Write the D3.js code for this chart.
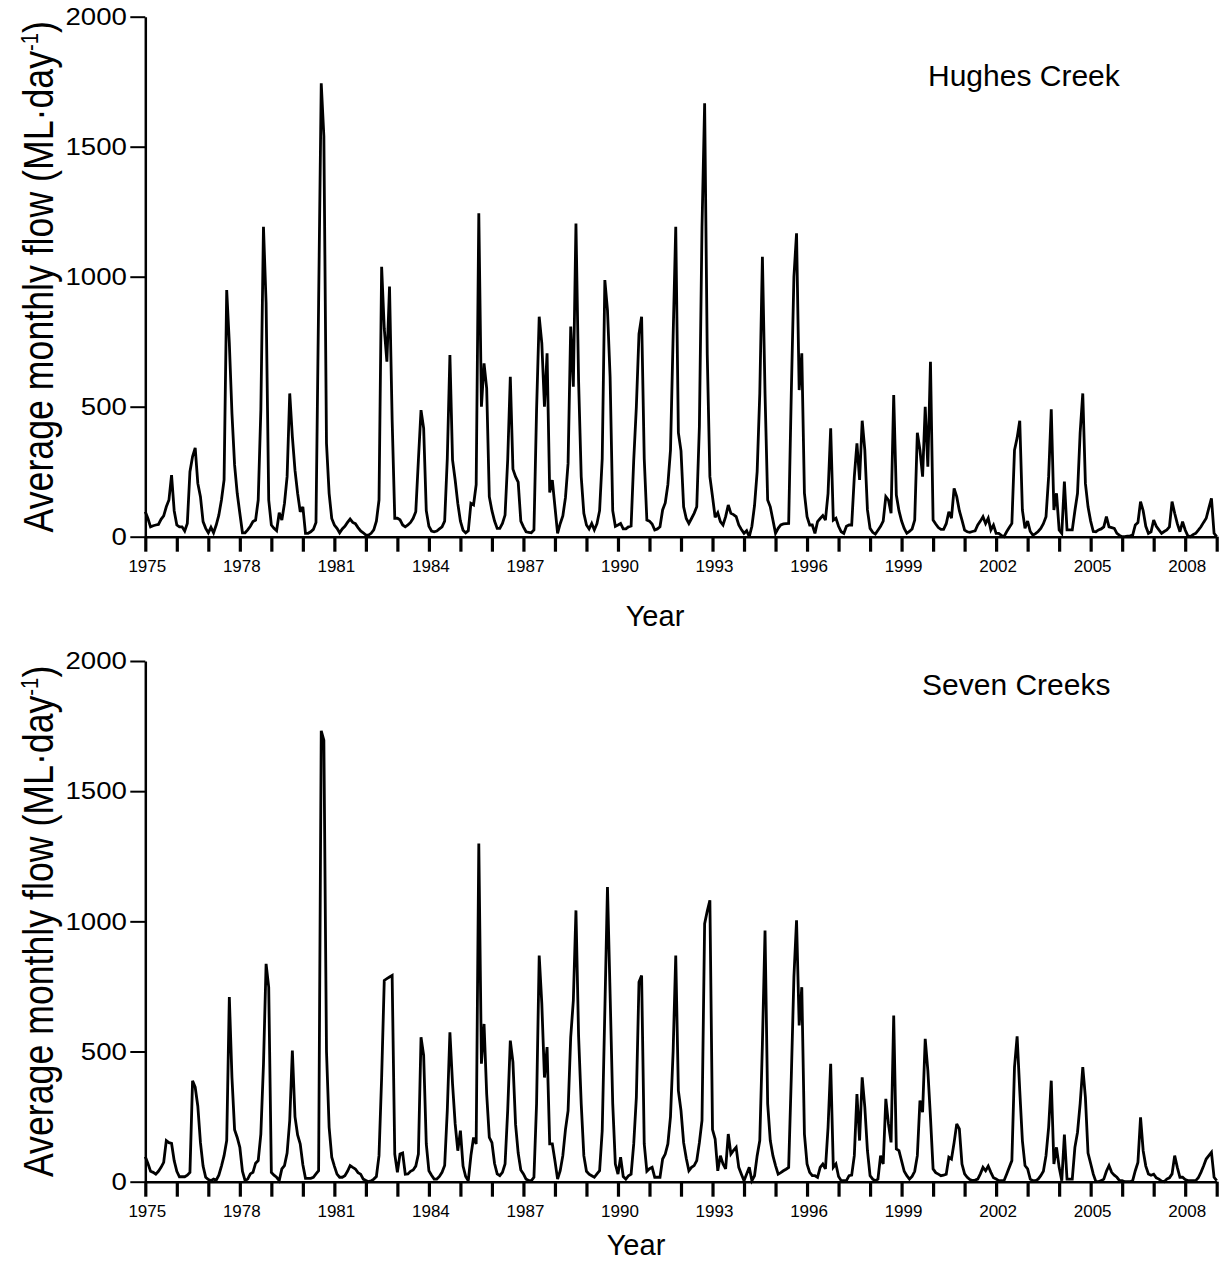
<!DOCTYPE html>
<html>
<head>
<meta charset="utf-8">
<script src="https://cdn.jsdelivr.net/npm/d3@7"></script>
<style>
	body { margin: 0; background: #fff; }
	text { font-family: "Liberation Sans", Arial, sans-serif; fill: #000; }
</style>
</head>
<body>
<svg id="chart" width="1223" height="1263"></svg>
<script>
//Monthly flow, Jan 1975 onwards (ML/day), one row per year
var hughesFlow = [
	96,70,38,42,45,47,67,80,115,141,237,100,
	45,38,38,22,51,250,308,342,205,154,58,32,
	15,36,15,45,83,141,218,949,744,474,276,167,
	90,15,15,26,40,58,64,141,487,1192,900,141,
	45,32,23,92,64,128,231,551,385,256,167,96,
	115,13,13,19,28,55,900,1744,1540,359,167,70,
	45,32,15,30,40,55,68,55,50,35,22,15,
	6,6,13,26,60,141,1038,800,673,962,450,71,
	71,65,45,38,45,55,71,96,295,487,417,100,
	40,22,19,22,30,38,60,300,699,295,218,128,
	60,25,15,23,128,122,200,1244,500,667,571,154,
	100,60,32,32,51,83,295,615,260,231,210,60,
	38,19,17,15,26,487,846,744,500,705,170,218,
	115,13,50,80,150,282,808,577,1205,600,231,90,
	45,30,51,26,50,100,300,987,872,615,100,40,
	45,51,30,30,38,41,295,500,780,846,300,64,
	60,49,26,30,38,103,130,200,333,769,1192,400,
	330,115,70,51,70,90,115,423,1192,1667,700,231,
	154,75,92,58,45,77,122,90,85,77,45,28,
	13,23,0,40,120,250,551,1077,551,141,115,64,
	13,32,45,49,50,51,551,1000,1167,564,705,167,
	77,45,45,13,58,70,81,64,167,417,64,71,
	40,19,13,40,45,45,231,359,218,446,333,103,
	32,17,10,25,40,60,154,141,90,545,160,100,
	60,32,13,20,30,64,400,333,231,500,269,673,
	64,49,35,28,28,50,96,71,186,154,100,64,
	25,19,17,20,23,45,60,77,51,71,26,45,
	13,13,5,0,19,35,51,333,380,446,103,32,
	60,20,6,12,20,32,50,77,231,490,103,167,
	26,13,212,26,26,26,100,167,400,551,205,115,
	60,20,19,26,30,38,77,38,35,32,13,5,
	0,0,2,3,6,45,54,135,100,40,13,19,
	64,40,26,13,20,26,38,135,90,50,19,58,
	26,3,0,8,13,25,38,55,71,110,147,13,
	0
];

var sevenFlow = [
	96,70,40,36,29,40,55,74,158,150,147,81,
	40,19,19,19,25,36,388,363,290,150,60,17,
	8,4,10,6,25,60,100,158,709,400,200,170,
	132,40,4,10,30,36,71,81,183,450,837,747,
	36,25,17,4,49,62,110,235,504,250,180,145,
	65,13,13,13,17,30,42,1732,1696,500,209,94,
	60,29,17,17,23,40,62,55,49,35,29,10,
	5,0,3,10,20,100,400,773,780,786,792,106,
	36,106,110,29,30,40,45,60,106,555,485,145,
	42,25,10,10,20,36,62,273,574,376,222,119,
	196,60,20,4,100,170,145,1299,453,606,337,170,
	150,70,30,23,36,68,273,542,459,220,110,45,
	30,10,5,4,17,300,869,683,400,517,145,145,
	80,10,42,100,200,273,555,696,1042,560,300,100,
	40,29,23,17,30,42,196,658,1132,722,300,68,
	29,94,20,10,23,29,145,324,767,792,145,40,
	50,55,17,17,17,87,106,145,250,500,869,350,
	273,150,90,42,55,62,81,150,235,991,1040,1081,
	200,164,42,100,68,49,183,106,120,132,55,29,
	4,30,55,4,23,100,158,529,965,300,158,100,
	62,29,35,42,48,55,401,786,1004,600,747,183,
	68,36,23,23,17,55,68,49,209,453,55,68,
	20,4,4,4,23,25,100,337,158,401,286,119,
	23,10,4,10,100,68,318,222,151,638,126,119,
	80,40,23,10,20,40,100,312,267,549,427,247,
	49,35,29,23,25,29,94,87,150,222,203,68,
	30,17,8,4,6,10,30,55,42,60,36,15,
	10,4,4,4,29,55,81,440,558,350,158,62,
	49,10,4,4,10,23,40,100,209,388,68,132,
	55,4,181,10,10,10,132,190,300,440,324,110,
	70,29,0,0,4,10,40,62,36,25,17,4,
	4,0,0,0,4,42,74,247,119,60,30,25,
	29,15,10,2,0,10,15,30,100,55,17,17,
	8,4,4,4,4,15,36,60,87,100,113,17,
	4
];

var startYear = 1975;
var endYear = 2009;
var yearTicks = [1975,1976,1977,1978,1979,1980,1981,1982,1983,1984,1985,1986,1987,1988,1989,1990,1991,1992,
	1993,1994,1995,1996,1997,1998,1999,2000,2001,2002,2003,2004,2005,2006,2007,2008,2009];
var yearLabels = [1975,1978,1981,1984,1987,1990,1993,1996,1999,2002,2005,2008];
var flowTicks = [0,500,1000,1500,2000];

var svg = d3.select("#chart");

var xScale = d3.scaleLinear()
	.domain([startYear, endYear])
	.range([145.3, 1216.7]);

function drawPanel(values, title, yBottom, yTop, titleX, titleY, yearX, yearY) {
	var yScale = d3.scaleLinear()
		.domain([0, 2000])
		.range([yBottom, yTop]);

	var g = svg.append("g").attr("class", "panel");

//Flow line
	var lineGen = d3.line()
		.x(function(d, i) { return xScale(startYear + i / 12); })
		.y(function(d) { return yScale(d); });

	g.append("path")
		.attr("d", lineGen(values))
		.attr("fill", "none")
		.attr("stroke", "#000")
		.attr("stroke-width", 2.8)
		.attr("stroke-linejoin", "miter")
		.attr("stroke-miterlimit", 3);

//X axis, one tick a year
	var xAxis = g.append("g")
		.attr("transform", "translate(0," + yBottom + ")")
		.call(d3.axisBottom(xScale)
			.tickValues(yearTicks)
			.tickSize(15)
			.tickSizeOuter(0)
			.tickFormat(""));
	xAxis.select(".domain").attr("stroke-width", 2.5);
	xAxis.selectAll(".tick line").attr("stroke-width", 3.2);

	g.selectAll("text.yearLabel")
		.data(yearLabels)
		.enter()
		.append("text")
			.attr("class", "yearLabel")
			.attr("x", function(d) { return xScale(d) + 2; })
			.attr("y", yBottom + 35)
			.attr("text-anchor", "middle")
			.style("font-size", "17px")
			.text(function(d) { return d; });

//Y axis
	var yAxis = g.append("g")
		.attr("transform", "translate(145.3,0)")
		.call(d3.axisLeft(yScale)
			.tickValues(flowTicks)
			.tickSize(15)
			.tickSizeOuter(0)
			.tickPadding(1)
			.tickFormat(d3.format("d")));
	yAxis.select(".domain").attr("stroke-width", 2.5);
	yAxis.selectAll(".tick line").attr("stroke-width", 2);
	yAxis.selectAll(".tick text")
		.attr("transform", "scale(1.15,1)")
		.style("font-size", "24px")
		.style("font-family", "'Liberation Sans', Arial, sans-serif")
		.attr("fill", "#000");

//Axis titles
	var yTitle = g.append("text")
		.attr("transform", "translate(53," + ((yBottom + yTop) / 2) + ") rotate(-90) scale(0.85,1)")
		.attr("text-anchor", "middle")
		.style("font-size", "42px");
	yTitle.append("tspan").text("Average monthly flow (ML\u00B7day");
	yTitle.append("tspan").attr("dy", -15).style("font-size", "24px").text("-1");
	yTitle.append("tspan").attr("dy", 15).text(")");

	g.append("text")
		.attr("x", yearX)
		.attr("y", yearY)
		.attr("text-anchor", "middle")
		.style("font-size", "29px")
		.text("Year");

	g.append("text")
		.attr("x", titleX)
		.attr("y", titleY)
		.style("font-size", "30px")
		.text(title);
}

drawPanel(hughesFlow, "Hughes Creek", 536.7, 16.7, 928, 86, 655, 626);
drawPanel(sevenFlow, "Seven Creeks", 1181.7, 661, 922, 695, 636, 1255);
</script>
</body>
</html>
